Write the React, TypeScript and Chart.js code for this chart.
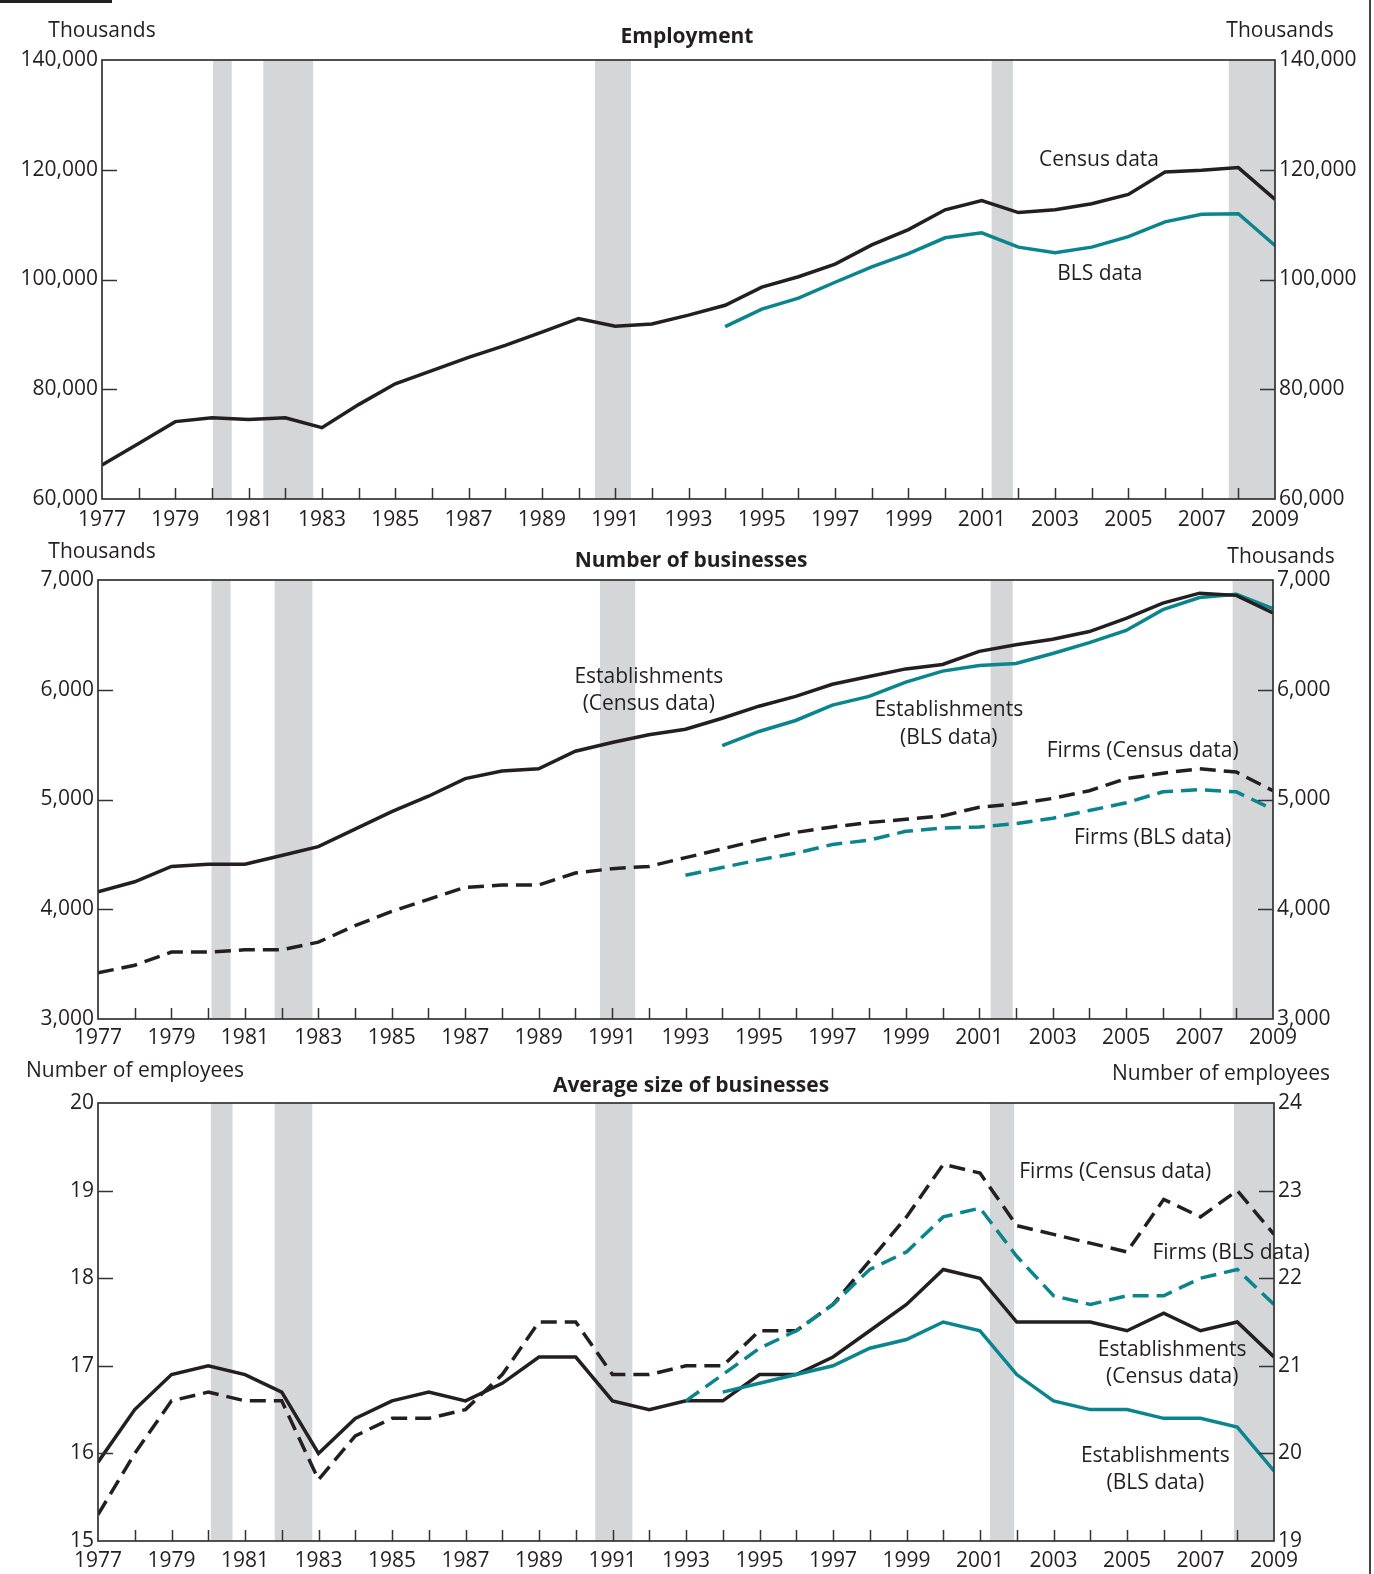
import React, { useEffect, useRef } from "react";
import { Chart, registerables } from "chart.js";

Chart.register(...registerables);

const FONT = "'Open Sans', 'Noto Sans', sans-serif";
const INK = "#231f20";
const TEAL = "#0a858e";
const BAND = "#d5d6d8";
const FRAME = "#333333";

// ---------- DATA ----------
const years = [1977, 1978, 1979, 1980, 1981, 1982, 1983, 1984, 1985, 1986, 1987, 1988, 1989, 1990, 1991, 1992, 1993, 1994, 1995, 1996, 1997, 1998, 1999, 2000, 2001, 2002, 2003, 2004, 2005, 2006, 2007, 2008, 2009];
const yearLabels = [1977, 1979, 1981, 1983, 1985, 1987, 1989, 1991, 1993, 1995, 1997, 1999, 2001, 2003, 2005, 2007, 2009];

// Employment, thousands
const employmentCensus = [66200, 70100, 74100, 74800, 74500, 74800, 73000, 77200, 81000, 83400, 85800, 88000, 90400, 92900, 91500, 91900, 93500, 95300, 98600, 100500, 102800, 106300, 109100, 112700, 114400, 112200, 112700, 113800, 115500, 119600, 119900, 120400, 114600];
const employmentBLS = [null, null, null, null, null, null, null, null, null, null, null, null, null, null, null, null, null, 91400, 94600, 96600, 99500, 102300, 104700, 107600, 108500, 105900, 104900, 105900, 107800, 110500, 111900, 112000, 106200];

// Number of businesses, thousands
const establishmentsCensus = [4160, 4250, 4390, 4410, 4410, 4490, 4570, 4730, 4890, 5030, 5190, 5260, 5280, 5440, 5520, 5590, 5640, 5740, 5850, 5940, 6050, 6120, 6190, 6230, 6350, 6410, 6460, 6530, 6650, 6790, 6880, 6860, 6700];
const establishmentsBLS = [null, null, null, null, null, null, null, null, null, null, null, null, null, null, null, null, null, 5490, 5620, 5720, 5860, 5940, 6070, 6170, 6220, 6240, 6330, 6430, 6540, 6730, 6840, 6870, 6740];
const firmsCensus = [3420, 3490, 3610, 3610, 3630, 3630, 3700, 3850, 3980, 4090, 4200, 4220, 4220, 4330, 4370, 4390, 4470, 4550, 4630, 4700, 4750, 4790, 4820, 4850, 4930, 4960, 5010, 5080, 5190, 5240, 5280, 5250, 5080];
const firmsBLS = [null, null, null, null, null, null, null, null, null, null, null, null, null, null, null, null, 4310, 4380, 4450, 4510, 4590, 4630, 4710, 4740, 4750, 4780, 4830, 4900, 4970, 5070, 5090, 5070, 4910];

// Average size of businesses, employees (establishments: left axis, firms: right axis)
const estSizeCensus = [15.9, 16.5, 16.9, 17.0, 16.9, 16.7, 16.0, 16.4, 16.6, 16.7, 16.6, 16.8, 17.1, 17.1, 16.6, 16.5, 16.6, 16.6, 16.9, 16.9, 17.1, 17.4, 17.7, 18.1, 18.0, 17.5, 17.5, 17.5, 17.4, 17.6, 17.4, 17.5, 17.1];
const estSizeBLS = [null, null, null, null, null, null, null, null, null, null, null, null, null, null, null, null, null, 16.7, 16.8, 16.9, 17.0, 17.2, 17.3, 17.5, 17.4, 16.9, 16.6, 16.5, 16.5, 16.4, 16.4, 16.3, 15.8];
const firmSizeCensus = [19.3, 20.0, 20.6, 20.7, 20.6, 20.6, 19.7, 20.2, 20.4, 20.4, 20.5, 20.9, 21.5, 21.5, 20.9, 20.9, 21.0, 21.0, 21.4, 21.4, 21.7, 22.2, 22.7, 23.3, 23.2, 22.6, 22.5, 22.4, 22.3, 22.9, 22.7, 23.0, 22.5];
const firmSizeBLS = [null, null, null, null, null, null, null, null, null, null, null, null, null, null, null, null, 20.6, 20.9, 21.2, 21.4, 21.7, 22.1, 22.3, 22.7, 22.8, 22.25, 21.8, 21.7, 21.8, 21.8, 22.0, 22.1, 21.7];

// Tick values
const employmentTicks = [60000, 80000, 100000, 120000, 140000];
const businessTicks = [3000, 4000, 5000, 6000, 7000];
const estSizeTicks = [15, 16, 17, 18, 19, 20];
const firmSizeTicks = [19, 20, 21, 22, 23, 24];

// Recession periods (start, end) as drawn in each panel
const recessionsEmployment: [number, number][] = [[1980.03, 1980.54], [1981.4, 1982.76], [1990.45, 1991.43], [2001.27, 2001.85], [2007.74, 2009]];
const recessionsBusinesses: [number, number][] = [[1980.09, 1980.61], [1981.81, 1982.84], [1990.67, 1991.63], [2001.31, 2001.91], [2007.9, 2009]];
const recessionsSize: [number, number][] = [[1980.07, 1980.66], [1981.81, 1982.83], [1990.53, 1991.54], [2001.27, 2001.93], [2007.91, 2009]];

// ---------- helpers ----------
type Series = { label: string; values: (number | null)[]; color: string; dashed?: boolean; axis: string };
type Note = { text: string; x: number; y: number };
type Header = { text: string; x: number; y: number; bold?: boolean };
type PanelSpec = {
  top: number; height: number; padTop: number; leftW: number; rightW: number; xH: number; xPad: number;
  leftTicks: number[]; rightTicks: number[];
  series: Series[]; bands: [number, number][]; notes: Note[]; headers: Header[];
};

const toPoints = (vals: (number | null)[]) =>
  years.map((yr, i) => ({ x: yr, y: vals[i] })).filter((p) => p.y !== null);

const fmt = (v: number) => Number(v).toLocaleString("en-US");

function decorPlugin(p: PanelSpec) {
  return {
    id: "decor",
    beforeDatasetsDraw(chart: any) {
      const { ctx, chartArea: a, scales } = chart;
      const x = scales.x;
      ctx.save();
      ctx.fillStyle = BAND;
      p.bands.forEach(([s, e]) => {
        const x0 = x.getPixelForValue(s);
        const x1 = x.getPixelForValue(e);
        ctx.fillRect(x0, a.top, x1 - x0, a.bottom - a.top);
      });
      ctx.restore();
    },
    afterDatasetsDraw(chart: any) {
      const { ctx, chartArea: a, scales } = chart;
      ctx.save();
      // frame
      ctx.strokeStyle = FRAME;
      ctx.lineWidth = 1.7;
      ctx.strokeRect(a.left, a.top, a.right - a.left, a.bottom - a.top);
      // inner ticks
      ctx.lineWidth = 1.5;
      ctx.beginPath();
      scales.x.ticks.forEach((t: any) => {
        if (t.value <= scales.x.min || t.value >= scales.x.max) return;
        const px = Math.round(scales.x.getPixelForValue(t.value)) + 0.5;
        ctx.moveTo(px, a.bottom);
        ctx.lineTo(px, a.bottom - 11);
      });
      scales.y.ticks.forEach((t: any) => {
        if (t.value <= scales.y.min || t.value >= scales.y.max) return;
        const py = Math.round(scales.y.getPixelForValue(t.value)) + 0.5;
        ctx.moveTo(a.left, py);
        ctx.lineTo(a.left + 15, py);
      });
      scales.y2.ticks.forEach((t: any) => {
        if (t.value <= scales.y2.min || t.value >= scales.y2.max) return;
        const py = Math.round(scales.y2.getPixelForValue(t.value)) + 0.5;
        ctx.moveTo(a.right, py);
        ctx.lineTo(a.right - 15, py);
      });
      ctx.stroke();
      // annotations
      ctx.fillStyle = INK;
      ctx.textAlign = "center";
      ctx.textBaseline = "middle";
      ctx.font = `21px ${FONT}`;
      p.notes.forEach((n) => {
        ctx.fillText(n.text, scales.x.getPixelForValue(n.x), scales.y.getPixelForValue(n.y));
      });
      // headers
      p.headers.forEach((h) => {
        ctx.font = `${h.bold ? "bold " : ""}21px ${FONT}`;
        ctx.fillText(h.text, h.x, h.y);
      });
      ctx.restore();
    },
  };
}

function buildConfig(p: PanelSpec): any {
  const tickFont = { family: FONT, size: 21 };
  const yScale = (pos: "left" | "right", ticks: number[], w: number) => ({
    type: "linear",
    position: pos,
    display: true,
    min: ticks[0],
    max: ticks[ticks.length - 1],
    afterBuildTicks: (s: any) => {
      s.ticks = ticks.map((v) => ({ value: v }));
    },
    afterFit: (s: any) => {
      s.width = w;
    },
    grid: { display: false, drawTicks: false },
    border: { display: false },
    ticks: { padding: 4, color: INK, font: tickFont, callback: (v: any) => fmt(v) },
  });
  return {
    type: "line",
    data: {
      datasets: p.series.map((s) => ({
        label: s.label,
        data: toPoints(s.values),
        yAxisID: s.axis,
        borderColor: s.color,
        borderWidth: 3.5,
        borderDash: s.dashed ? [16, 8] : [],
        pointRadius: 0,
        fill: false,
        tension: 0,
        borderJoinStyle: "miter",
      })),
    },
    options: {
      responsive: false,
      animation: false,
      events: [],
      layout: { padding: { top: p.padTop, left: 0, right: 0, bottom: 0 } },
      plugins: { legend: { display: false }, tooltip: { enabled: false }, title: { display: false } },
      scales: {
        x: {
          type: "linear",
          min: years[0],
          max: years[years.length - 1],
          afterBuildTicks: (s: any) => {
            s.ticks = years.map((v) => ({ value: v }));
          },
          afterFit: (s: any) => {
            s.height = p.xH;
          },
          grid: { display: false, drawTicks: false },
          border: { display: false },
          ticks: {
            autoSkip: false,
            maxRotation: 0,
            minRotation: 0,
            padding: p.xPad,
            color: INK,
            font: tickFont,
            callback: (v: any) => (yearLabels.includes(Number(v)) ? String(v) : ""),
          },
        },
        y: yScale("left", p.leftTicks, p.leftW),
        y2: yScale("right", p.rightTicks, p.rightW),
      },
    },
    plugins: [decorPlugin(p)],
  };
}

const panels: PanelSpec[] = [
  {
    top: 0, height: 545, padTop: 60, leftW: 102, rightW: 99, xH: 46, xPad: 8,
    leftTicks: employmentTicks, rightTicks: employmentTicks,
    series: [
      { label: "BLS data", values: employmentBLS, color: TEAL, axis: "y" },
      { label: "Census data", values: employmentCensus, color: INK, axis: "y" },
    ],
    bands: recessionsEmployment,
    notes: [
      { text: "Census data", x: 2004.2, y: 121850 },
      { text: "BLS data", x: 2004.22, y: 101000 },
    ],
    headers: [
      { text: "Thousands", x: 102, y: 31 },
      { text: "Employment", x: 687, y: 37, bold: true },
      { text: "Thousands", x: 1280, y: 31 },
    ],
  },
  {
    top: 535, height: 525, padTop: 45, leftW: 98, rightW: 101, xH: 41, xPad: 6,
    leftTicks: businessTicks, rightTicks: businessTicks,
    series: [
      { label: "Firms (BLS data)", values: firmsBLS, color: TEAL, dashed: true, axis: "y" },
      { label: "Firms (Census data)", values: firmsCensus, color: INK, dashed: true, axis: "y" },
      { label: "Establishments (Census data)", values: establishmentsCensus, color: INK, axis: "y" },
      { label: "Establishments (BLS data)", values: establishmentsBLS, color: TEAL, axis: "y" },
    ],
    bands: recessionsBusinesses,
    notes: [
      { text: "Establishments", x: 1992.0, y: 6112 },
      { text: "(Census data)", x: 1992.0, y: 5866 },
      { text: "Establishments", x: 2000.17, y: 5811 },
      { text: "(BLS data)", x: 2000.17, y: 5564 },
      { text: "Firms (Census data)", x: 2005.45, y: 5445 },
      { text: "Firms (BLS data)", x: 2005.72, y: 4649 },
    ],
    headers: [
      { text: "Thousands", x: 102, y: 17 },
      { text: "Number of businesses", x: 691, y: 26, bold: true },
      { text: "Thousands", x: 1281, y: 22 },
    ],
  },
  {
    top: 1050, height: 524, padTop: 53, leftW: 98, rightW: 100, xH: 33, xPad: 7,
    leftTicks: estSizeTicks, rightTicks: firmSizeTicks,
    series: [
      { label: "Firms (BLS data)", values: firmSizeBLS, color: TEAL, dashed: true, axis: "y2" },
      { label: "Firms (Census data)", values: firmSizeCensus, color: INK, dashed: true, axis: "y2" },
      { label: "Establishments (BLS data)", values: estSizeBLS, color: TEAL, axis: "y" },
      { label: "Establishments (Census data)", values: estSizeCensus, color: INK, axis: "y" },
    ],
    bands: recessionsSize,
    notes: [
      { text: "Firms (Census data)", x: 2004.68, y: 19.21 },
      { text: "Firms (BLS data)", x: 2007.83, y: 18.29 },
      { text: "Establishments", x: 2006.23, y: 17.18 },
      { text: "(Census data)", x: 2006.23, y: 16.87 },
      { text: "Establishments", x: 2005.77, y: 15.97 },
      { text: "(BLS data)", x: 2005.77, y: 15.66 },
    ],
    headers: [
      { text: "Number of employees", x: 135, y: 21 },
      { text: "Average size of businesses", x: 691, y: 36, bold: true },
      { text: "Number of employees", x: 1221, y: 24 },
    ],
  },
];

function Panel({ spec }: { spec: PanelSpec }) {
  const ref = useRef<HTMLCanvasElement>(null);
  useEffect(() => {
    const chart = new Chart(ref.current as HTMLCanvasElement, buildConfig(spec));
    return () => chart.destroy();
  }, [spec]);
  return (
    <canvas
      ref={ref}
      width={1374}
      height={spec.height}
      style={{ position: "absolute", left: 0, top: spec.top, display: "block", width: 1374, height: spec.height }}
    />
  );
}

export default function App() {
  return (
    <div style={{ position: "absolute", left: 0, top: 0, width: 1374, height: 1574, background: "#fff", overflow: "hidden" }}>
      {panels.map((p, i) => (
        <Panel key={i} spec={p} />
      ))}
      <div style={{ position: "absolute", left: 0, top: 0, width: 112, height: 3, background: INK }} />
      <div style={{ position: "absolute", left: 1369, top: 0, width: 2, height: 1574, background: "#444" }} />
    </div>
  );
}
